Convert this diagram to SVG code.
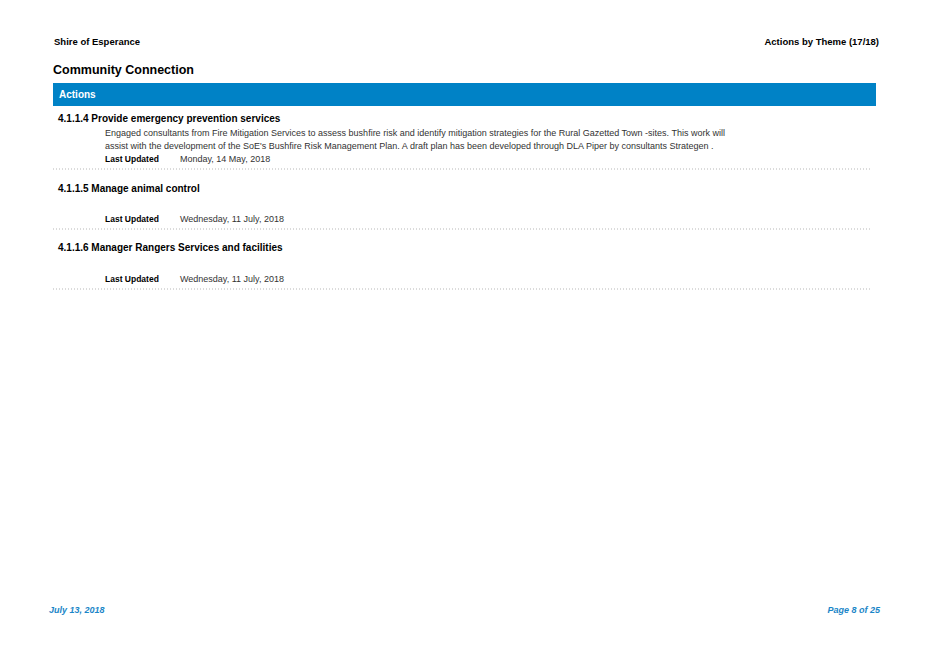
<svg xmlns="http://www.w3.org/2000/svg" width="928" height="657" viewBox="0 0 928 657">
<style>
text{font-family:"Liberation Sans",Arial,sans-serif;fill:#000}
.b{font-weight:bold}
.h{font-size:10px;font-weight:bold}
.t{font-size:9px;fill:#333}
.lu{font-size:8.5px;font-weight:bold}
.d{stroke:#999;stroke-width:0.7;stroke-dasharray:1 2}
.f{font-size:9px;font-weight:bold;font-style:italic;fill:#1a86c8}
</style>
<rect width="928" height="657" fill="#fff"/>
<text x="54" y="45" class="b" font-size="9.5">Shire of Esperance</text>
<text x="879" y="45" class="b" font-size="9.5" text-anchor="end">Actions by Theme  (17/18)</text>
<text x="53" y="74" class="b" font-size="12.5">Community Connection</text>
<rect x="53" y="83" width="823" height="23" fill="#0082c6"/>
<text x="59" y="98" class="b" font-size="10" fill="#fff" style="fill:#fff">Actions</text>
<g id="a4114">
<text x="58" y="122" class="h">4.1.1.4  Provide emergency prevention services</text>
<text x="105" y="136" class="t">Engaged consultants from Fire Mitigation Services to assess bushfire risk and identify mitigation strategies for the Rural Gazetted Town -sites. This work will</text>
<text x="105" y="149" class="t">assist with the development of the SoE's Bushfire Risk Management Plan.  A draft plan has been developed through DLA Piper by consultants Strategen .</text>
<text x="105" y="162" class="lu">Last Updated</text>
<text x="180" y="162" class="t">Monday, 14 May, 2018</text>
<line x1="53" y1="169" x2="872" y2="169" class="d"/>
</g>
<g id="a4115">
<text x="58" y="192" class="h">4.1.1.5  Manage animal control</text>
<text x="105" y="222" class="lu">Last Updated</text>
<text x="180" y="222" class="t">Wednesday, 11 July, 2018</text>
<line x1="53" y1="229" x2="872" y2="229" class="d"/>
</g>
<g id="a4116">
<text x="58" y="251" class="h">4.1.1.6  Manager Rangers Services and facilities</text>
<text x="105" y="282" class="lu">Last Updated</text>
<text x="180" y="282" class="t">Wednesday, 11 July, 2018</text>
<line x1="53" y1="289" x2="872" y2="289" class="d"/>
</g>
<text x="49" y="613" class="f">July 13, 2018</text>
<text x="880" y="613" class="f" text-anchor="end">Page 8 of 25</text>
</svg>
